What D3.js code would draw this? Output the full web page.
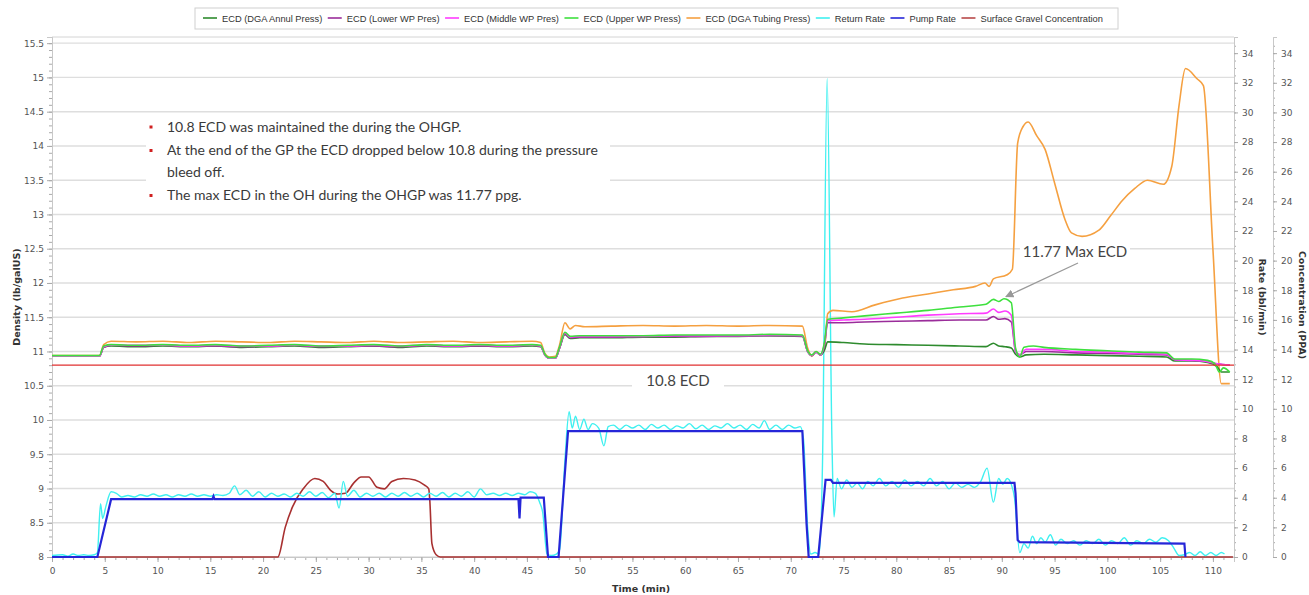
<!DOCTYPE html>
<html>
<head>
<meta charset="utf-8">
<script src="https://cdn.jsdelivr.net/npm/d3@7"></script>
<style>
body { margin: 0; background: #fff; }
svg text { font-family: "DejaVu Sans", sans-serif; }
</style>
</head>
<body>
<svg id="chart" width="1309" height="595"></svg>
<script>
// Density series [time (min), ppg]
const annulPress = [[0,10.93],[4.5,10.93],[4.9,11.06],[5.6,11.08],[8,11.07],[10.5,11.08],[13,11.07],[15.5,11.08],[18,11.06],[20.5,11.07],[23,11.08],[25.5,11.06],[28,11.07],[30.5,11.08],[33,11.06],[35.5,11.08],[38,11.07],[40.5,11.08],[43,11.07],[45.5,11.08],[46.3,11.07],[46.7,10.95],[47.1,10.9],[47.7,10.9],[48.1,11.05],[48.6,11.25],[49.1,11.19],[50,11.2],[53,11.2],[56,11.21],[59,11.21],[62,11.22],[65,11.22],[68,11.23],[71.1,11.22],[71.6,11.0],[72.0,10.94],[72.4,10.99],[72.8,10.95],[73.2,11.02],[73.5,11.14],[75,11.13],[77,11.11],[80,11.1],[83,11.09],[86,11.08],[88.5,11.07],[89.2,11.12],[89.7,11.08],[90.3,11.07],[90.9,11.05],[91.3,10.96],[91.7,10.92],[92.3,10.95],[94,10.96],[97,10.95],[100,10.94],[103,10.93],[105.6,10.92],[106.4,10.86],[108,10.86],[109.5,10.84],[110.4,10.78],[110.8,10.7],[111.6,10.7]];
const lowerWP = [[0,10.93],[4.5,10.93],[4.9,11.06],[5.6,11.09],[8,11.08],[10.5,11.09],[13,11.08],[15.5,11.08],[18,11.07],[20.5,11.08],[23,11.09],[25.5,11.07],[28,11.08],[30.5,11.08],[33,11.07],[35.5,11.09],[38,11.08],[40.5,11.08],[43,11.08],[45.5,11.09],[46.3,11.08],[46.7,10.95],[47.1,10.9],[47.7,10.9],[48.1,11.05],[48.6,11.26],[49.1,11.2],[50,11.21],[53,11.21],[56,11.22],[59,11.22],[62,11.22],[65,11.23],[68,11.23],[71.1,11.23],[71.6,11.0],[72.0,10.94],[72.4,10.99],[72.8,10.95],[73.2,11.1],[73.5,11.42],[75,11.42],[77,11.43],[80,11.44],[83,11.45],[86,11.46],[88.5,11.46],[89.2,11.51],[89.7,11.47],[90.3,11.48],[90.9,11.43],[91.3,11.0],[91.7,10.95],[92.3,11.0],[94,11.0],[97,10.98],[100,10.97],[103,10.96],[105.6,10.95],[106.4,10.88],[108,10.87],[109.5,10.85],[110.4,10.82],[111.6,10.8]];
const middleWP = [[0,10.93],[4.5,10.93],[4.9,11.07],[5.6,11.09],[8,11.09],[10.5,11.09],[13,11.08],[15.5,11.09],[18,11.08],[20.5,11.08],[23,11.09],[25.5,11.08],[28,11.08],[30.5,11.09],[33,11.08],[35.5,11.09],[38,11.08],[40.5,11.09],[43,11.08],[45.5,11.09],[46.3,11.08],[46.7,10.95],[47.1,10.9],[47.7,10.9],[48.1,11.06],[48.6,11.27],[49.1,11.21],[50,11.22],[53,11.22],[56,11.22],[59,11.23],[62,11.23],[65,11.23],[68,11.24],[71.1,11.23],[71.6,11.0],[72.0,10.94],[72.4,10.99],[72.8,10.95],[73.2,11.12],[73.5,11.45],[75,11.46],[77,11.47],[80,11.5],[83,11.53],[86,11.55],[88.5,11.56],[89.2,11.62],[89.7,11.57],[90.3,11.59],[90.9,11.53],[91.3,11.0],[91.7,10.95],[92.3,11.03],[94,11.03],[97,11.0],[100,10.99],[103,10.97],[105.6,10.96],[106.4,10.88],[108,10.87],[109.5,10.85],[110.4,10.82],[111.6,10.8]];
const upperWP = [[0,10.94],[4.5,10.94],[4.9,11.08],[5.6,11.1],[8,11.09],[10.5,11.1],[13,11.09],[15.5,11.1],[18,11.08],[20.5,11.09],[23,11.1],[25.5,11.08],[28,11.09],[30.5,11.1],[33,11.08],[35.5,11.1],[38,11.09],[40.5,11.1],[43,11.09],[45.5,11.1],[46.3,11.09],[46.7,10.96],[47.1,10.91],[47.7,10.91],[48.1,11.07],[48.6,11.28],[49.1,11.22],[50,11.23],[53,11.23],[56,11.23],[59,11.24],[62,11.24],[65,11.24],[68,11.25],[71.1,11.24],[71.6,11.01],[72.0,10.95],[72.4,11.0],[72.8,10.96],[73.2,11.14],[73.5,11.47],[75,11.49],[77,11.52],[80,11.56],[83,11.6],[86,11.65],[88.5,11.69],[89.2,11.76],[89.7,11.73],[90.2,11.77],[90.9,11.71],[91.3,11.05],[91.7,10.92],[92.1,11.06],[93,11.08],[94,11.06],[97,11.03],[100,11.01],[103,10.99],[105.6,10.98],[106.4,10.89],[108,10.89],[109.5,10.87],[110.2,10.82],[110.6,10.7],[111,10.76],[111.6,10.7]];
const tubingPress = [[0,10.94],[4.5,10.94],[4.9,11.1],[5.6,11.15],[8,11.14],[10.5,11.15],[13,11.13],[15.5,11.15],[18,11.14],[20.5,11.13],[23,11.15],[25.5,11.14],[28,11.13],[30.5,11.15],[33,11.13],[35.5,11.14],[38,11.15],[40.5,11.13],[43,11.14],[45.5,11.15],[46.3,11.13],[46.7,10.97],[47.1,10.92],[47.7,10.93],[48.1,11.1],[48.6,11.42],[49.1,11.33],[49.6,11.38],[50.5,11.36],[53,11.37],[56,11.38],[59,11.37],[62,11.38],[65,11.37],[68,11.38],[71.1,11.37],[71.6,11.05],[72,10.93],[72.4,11.0],[72.8,10.95],[73.2,11.05],[73.5,11.55],[74,11.6],[75.8,11.58],[78,11.68],[80.6,11.78],[83,11.84],[85.4,11.9],[87.5,11.95],[88.4,12.0],[88.8,11.95],[89.2,12.06],[90.5,12.12],[91.0,12.2],[91.5,14.04],[92.0,14.28],[92.5,14.35],[93.3,14.15],[94.1,13.95],[95.0,13.46],[96.0,12.92],[96.6,12.73],[97.6,12.68],[99.2,12.77],[100.3,12.98],[101.4,13.2],[102.6,13.38],[103.8,13.5],[105.3,13.44],[106.1,13.7],[106.8,14.6],[107.4,15.13],[108.5,14.98],[109.1,14.88],[110.0,12.5],[110.8,10.53],[111.6,10.53]];

// Rate series [time (min), bbl/min]
const returnRate = [[0,0.1],[1,0.15],[1.5,0.05],[2,0.2],[2.5,0.1],[3,0.15],[3.5,0.1],[4.0,0.15],[4.3,0.3],[4.6,3.6],[4.8,2.6],[5.1,3.4],[5.6,4.4],[6.1,4.3],[6.6,4.05],[7.2,4.15],[7.8,4.05],[8.4,4.2],[9,4.1],[9.6,4.25],[10.2,4.1],[10.8,4.2],[11.4,4.05],[12,4.2],[12.6,4.1],[13.2,4.25],[13.8,4.1],[14.4,4.2],[15,4.1],[15.6,4.2],[16.2,4.15],[16.8,4.3],[17.3,4.8],[17.8,4.2],[18.4,4.5],[19,4.1],[19.6,4.4],[20.2,4.05],[20.8,4.3],[21.4,4.1],[22,4.25],[22.6,4.05],[23.2,4.3],[23.8,4.1],[24.4,4.4],[25,4.1],[25.6,4.35],[26.2,4.0],[26.8,4.3],[27.2,3.3],[27.6,5.1],[28,4.1],[28.6,4.5],[29.2,4.05],[29.8,4.3],[30.4,4.1],[31,4.3],[31.6,4.05],[32.2,4.3],[32.8,4.1],[33.4,4.35],[34,4.1],[34.6,4.3],[35.2,4.05],[35.8,4.3],[36.4,4.1],[37,4.35],[37.6,4.05],[38.2,4.3],[38.8,4.1],[39.4,4.4],[40,4.05],[40.6,4.6],[41.2,4.2],[41.8,4.3],[42.4,4.15],[43,4.3],[43.6,4.15],[44.2,4.3],[44.8,4.2],[45.3,4.4],[45.8,4.3],[46.2,3.7],[46.5,3.0],[46.9,0.2],[47.3,0.1],[47.8,0.2],[48.1,0.5],[48.6,6.5],[49.0,9.8],[49.3,8.7],[49.6,9.5],[50,8.6],[50.4,9.3],[50.8,8.6],[51.2,9.0],[51.8,8.7],[52.3,7.5],[52.7,8.8],[53.2,8.9],[53.8,8.6],[54.4,8.9],[55,8.7],[55.6,8.9],[56.2,8.6],[56.8,8.95],[57.4,8.7],[58,8.9],[58.6,8.6],[59.2,8.85],[59.8,8.7],[60.4,9.0],[61,8.65],[61.6,8.9],[62.2,8.6],[62.8,8.85],[63.4,8.7],[64,9.0],[64.6,8.7],[65.2,8.9],[65.8,8.6],[66.4,8.95],[67,8.7],[67.5,9.2],[68,8.6],[68.6,8.9],[69.2,8.6],[69.8,8.9],[70.4,8.7],[70.9,8.8],[71.2,8.0],[71.6,2.0],[71.9,0.2],[72.3,0.3],[72.7,0.2],[73.0,6.0],[73.45,32.3],[73.9,8.0],[74.1,2.7],[74.4,5.3],[74.8,4.6],[75.3,5.2],[75.8,4.7],[76.3,5.0],[76.8,4.6],[77.3,5.1],[77.8,4.8],[78.4,5.3],[79,4.8],[79.6,5.1],[80.2,4.7],[80.8,5.2],[81.4,4.8],[82,5.1],[82.6,4.8],[83.2,5.3],[83.8,4.8],[84.4,5.1],[85,4.6],[85.6,5.0],[86.2,4.7],[86.8,4.9],[87.4,4.7],[88.0,5.1],[88.6,6.0],[89.2,3.7],[89.7,5.3],[90.1,4.9],[90.5,5.3],[90.9,4.9],[91.2,4.0],[91.7,0.3],[92.1,0.9],[92.5,0.6],[92.9,1.4],[93.3,0.9],[93.7,1.3],[94.1,1.0],[94.6,1.5],[95.1,0.8],[95.6,1.2],[96.2,0.9],[96.8,1.1],[97.4,0.8],[98,1.1],[98.6,0.9],[99.2,1.2],[99.8,0.8],[100.4,1.1],[101,0.9],[101.6,1.3],[102.2,0.8],[102.8,1.1],[103.4,0.9],[104,1.2],[104.6,1.0],[105.2,1.3],[105.8,1.1],[106.3,0.6],[106.8,0.1],[107.3,0.15],[107.8,0.3],[108.3,0.1],[108.8,0.35],[109.3,0.1],[109.8,0.3],[110.3,0.1],[110.8,0.3],[111.1,0.2]];
const pumpRate = [[0,0],[4.3,0],[5.6,3.9],[15.2,3.9],[15.3,4.1],[15.4,3.9],[44.2,3.9],[44.3,2.6],[44.4,4.0],[46.6,4.0],[47.0,0],[48.0,0],[48.9,8.5],[71.1,8.5],[71.5,2.2],[71.7,0],[72.6,0],[73.3,5.2],[73.8,5.2],[74.0,5.0],[91.2,5.0],[91.3,4.3],[91.5,1.15],[91.7,1.0],[107.3,0.9],[107.4,0]];

// Concentration series [time (min), PPA]
const gravelConc = [[0,0],[21.4,0],[22.1,2.0],[22.8,3.4],[23.8,4.6],[24.9,5.3],[25.7,5.1],[26.4,4.5],[27.1,4.25],[27.8,4.3],[28.6,5.0],[29.3,5.4],[30.0,5.4],[30.8,4.7],[31.5,4.6],[32.2,5.1],[33.3,5.3],[34.4,5.2],[35.3,4.85],[35.7,4.6],[35.8,3.8],[36.0,0.9],[36.4,0.15],[36.8,0],[111.9,0]];

const ecdLimit = 10.8;
const maxEcd = [90.1, 11.77];

const legendNames = ['ECD (DGA Annul Press)', 'ECD (Lower WP Pres)', 'ECD (Middle WP Pres)', 'ECD (Upper WP Press)', 'ECD (DGA Tubing Press)', 'Return Rate', 'Pump Rate', 'Surface Gravel Concentration'];
const legendColors = ['#2e8b2e', '#9a2c9a', '#ff3cff', '#3ee03e', '#f5a040', '#3ff0f0', '#2626d8', '#b84848'];

const notes = ['10.8 ECD was maintained the during the OHGP.', 'At the end of the GP the ECD dropped below 10.8 during the pressure', 'bleed off.', 'The max ECD in the OH during the OHGP was 11.77 ppg.'];
const noteBullet = [true, true, false, true];

const svg = d3.select('#chart');

// Scales
const x = d3.scaleLinear().domain([0, 112]).range([52, 1234]);
const yD = d3.scaleLinear().domain([8, 15.59]).range([557, 37]);
const yR = d3.scaleLinear().domain([0, 35.09]).range([557, 37]);
const yC = d3.scaleLinear().domain([0, 35.09]).range([557, 37]);

const densityTicks = d3.range(8, 15.51, 0.5);
const timeTicks = d3.range(0, 111, 5);
const rateTicks = d3.range(0, 35, 2);

// Grid lines
svg.append('g').selectAll('line').data(densityTicks).enter().append('line')
    .attr('x1', 52).attr('x2', 1234)
    .attr('y1', d => yD(d)).attr('y2', d => yD(d))
    .attr('stroke', '#dedede').attr('stroke-width', 1.4);
svg.append('line').attr('x1', 52).attr('x2', 1234).attr('y1', 37).attr('y2', 37)
    .attr('stroke', '#d4d4d4');

// Axes
function styleAxis(g) {
    g.selectAll('.domain').attr('stroke', '#c8c8c8');
    g.selectAll('.tick line').attr('stroke', '#aaa');
    g.selectAll('.tick text').attr('fill', '#555').style('font-size', '9px')
        .style('font-family', '"DejaVu Sans", sans-serif');
}

const minorD = svg.append('g').attr('transform', 'translate(52,0)')
    .call(d3.axisLeft(yD).tickValues(d3.range(8, 15.55, 0.1)).tickSize(3).tickFormat(''));
styleAxis(minorD);
const leftAxis = svg.append('g').attr('transform', 'translate(52,0)')
    .call(d3.axisLeft(yD).tickValues(densityTicks).tickSize(5).tickFormat(d => d));
styleAxis(leftAxis);

const minorT = svg.append('g').attr('transform', 'translate(0,557)')
    .call(d3.axisBottom(x).tickValues(d3.range(0, 112, 1)).tickSize(3).tickFormat(''));
styleAxis(minorT);
const bottomAxis = svg.append('g').attr('transform', 'translate(0,557)')
    .call(d3.axisBottom(x).tickValues(timeTicks).tickSize(5).tickPadding(6));
styleAxis(bottomAxis);

[[1234, yR], [1273, yC]].forEach(([pos, sc]) => {
    const mg = svg.append('g').attr('transform', `translate(${pos},0)`)
        .call(d3.axisRight(sc).tickValues(d3.range(0, 35, 0.5)).tickSize(2).tickFormat(''));
    styleAxis(mg);
    const ag = svg.append('g').attr('transform', `translate(${pos},0)`)
        .call(d3.axisRight(sc).tickValues(rateTicks).tickSize(4).tickPadding(4));
    styleAxis(ag);
});

// Axis titles
svg.append('text').attr('transform', 'translate(20,297) rotate(-90)')
    .attr('text-anchor', 'middle').style('font-size', '9.5px').style('font-weight', 'bold')
    .attr('fill', '#333').text('Density (lb/galUS)');
svg.append('text').attr('x', 641).attr('y', 592)
    .attr('text-anchor', 'middle').style('font-size', '9.5px').style('font-weight', 'bold')
    .attr('fill', '#333').text('Time (min)');
svg.append('text').attr('transform', 'translate(1259,297) rotate(90)')
    .attr('text-anchor', 'middle').style('font-size', '9.5px').style('font-weight', 'bold')
    .attr('fill', '#333').text('Rate (bbl/min)');
svg.append('text').attr('transform', 'translate(1299,305) rotate(90)')
    .attr('text-anchor', 'middle').style('font-size', '9.5px').style('font-weight', 'bold')
    .attr('fill', '#333').text('Concentration (PPA)');

// Annotation backgrounds (over grid)
svg.append('rect').attr('x', 146).attr('y', 116).attr('width', 464).attr('height', 92).attr('fill', '#fff');
svg.append('rect').attr('x', 632).attr('y', 370).attr('width', 92).attr('height', 22).attr('fill', '#fff');
svg.append('rect').attr('x', 1020).attr('y', 240).attr('width', 110).attr('height', 22).attr('fill', '#fff');

// Series lines
const lineD = d3.line().x(d => x(d[0])).y(d => yD(d[1])).curve(d3.curveMonotoneX);
const lineR = d3.line().x(d => x(d[0])).y(d => yR(d[1])).curve(d3.curveMonotoneX);
const lineC = d3.line().x(d => x(d[0])).y(d => yC(d[1])).curve(d3.curveMonotoneX);
const lineStep = d3.line().x(d => x(d[0])).y(d => yR(d[1]));

svg.append('path').datum(gravelConc).attr('d', lineC)
    .attr('fill', 'none').attr('stroke', '#a83030').attr('stroke-width', 1.6);
svg.append('path').datum(returnRate).attr('d', lineR)
    .attr('fill', 'none').attr('stroke', legendColors[5]).attr('stroke-width', 1.4);
svg.append('path').datum(pumpRate).attr('d', lineStep)
    .attr('fill', 'none').attr('stroke', legendColors[6]).attr('stroke-width', 2.2);

[[tubingPress, 4], [annulPress, 0], [lowerWP, 1], [middleWP, 2], [upperWP, 3]].forEach(([s, i]) => {
    svg.append('path').datum(s).attr('d', lineD)
        .attr('fill', 'none').attr('stroke', legendColors[i]).attr('stroke-width', 1.6);
});

svg.append('line').attr('x1', x(0)).attr('x2', x(112))
    .attr('y1', yD(ecdLimit)).attr('y2', yD(ecdLimit))
    .attr('stroke', '#e03030').attr('stroke-width', 1.3);

// Notes
const noteG = svg.append('g');
const noteY = [131.5, 155, 176.5, 200];
notes.forEach((t, i) => {
    noteG.append('text').attr('x', 167).attr('y', noteY[i])
        .style('font-family', 'Lato, sans-serif').style('font-size', '14px')
        .attr('fill', '#3a3a3a').text(t);
    if (noteBullet[i]) {
        noteG.append('rect').attr('x', 149.5).attr('y', noteY[i] - 6).attr('width', 3).attr('height', 3)
            .attr('fill', '#d02020');
    }
});

svg.append('text').attr('x', 678).attr('y', 386).attr('text-anchor', 'middle')
    .style('font-family', 'Lato, sans-serif').style('font-size', '15px')
    .attr('fill', '#444').text(ecdLimit + ' ECD');

svg.append('text').attr('x', 1075).attr('y', 257).attr('text-anchor', 'middle')
    .style('font-family', 'Lato, sans-serif').style('font-size', '15px')
    .attr('fill', '#444').text(maxEcd[1] + ' Max ECD');

svg.append('defs').append('marker').attr('id', 'arrow')
    .attr('viewBox', '0 0 10 10').attr('refX', 9).attr('refY', 5)
    .attr('markerWidth', 7).attr('markerHeight', 7).attr('orient', 'auto')
    .append('path').attr('d', 'M0,0 L10,5 L0,10 z').attr('fill', '#999');
svg.append('line').attr('x1', 1078).attr('y1', 263)
    .attr('x2', x(maxEcd[0]) + 3).attr('y2', yD(maxEcd[1]) - 2)
    .attr('stroke', '#999').attr('stroke-width', 1.2).attr('marker-end', 'url(#arrow)');

// Legend
const legend = svg.append('g');
legend.append('rect').attr('x', 195).attr('y', 8).attr('width', 923).attr('height', 21)
    .attr('fill', '#fff').attr('stroke', '#d0d0d0');
let lx = 203;
legendNames.forEach((name, i) => {
    legend.append('line').attr('x1', lx).attr('x2', lx + 14).attr('y1', 18).attr('y2', 18)
        .attr('stroke', legendColors[i]).attr('stroke-width', 1.6);
    const t = legend.append('text').attr('x', lx + 19).attr('y', 21.5)
        .style('font-family', '"Liberation Sans", sans-serif').style('font-size', '9.3px')
        .attr('fill', '#333').text(name);
    lx += 19 + t.node().getComputedTextLength() + 5.5;
});
</script>
</body>
</html>
